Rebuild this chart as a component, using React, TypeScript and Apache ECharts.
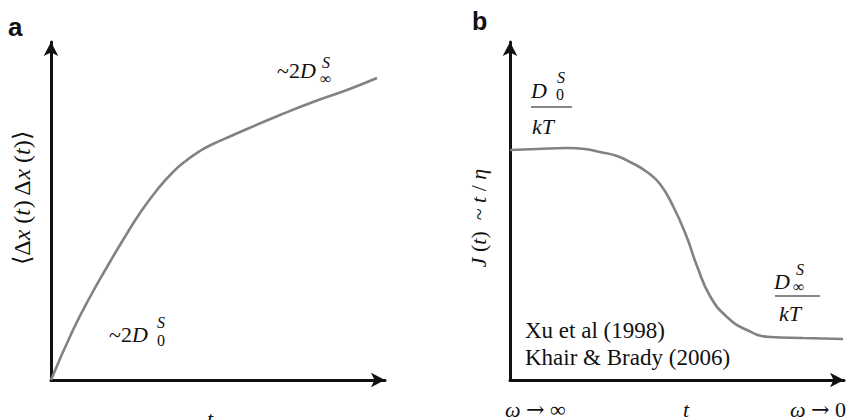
import React, { useEffect, useRef } from "react";
import * as echarts from "echarts";

// Panel a: mean-square displacement versus time (arbitrary units)
const msdT = [0, 22, 39, 56, 72, 89, 106, 122, 136, 149, 162, 180, 196, 229, 262, 296, 326];
const msdV = [0, 50, 83, 113, 140, 167, 190, 208, 220, 229, 236, 244, 251, 265, 278, 290, 302];

// Panel b: normalised response J(t) versus time (arbitrary units)
const jT = [0, 27, 57, 75, 90, 107, 122, 137, 150, 163, 176, 187, 200, 217, 237, 260, 293, 333];
const jV = [230, 231, 232, 231, 228, 224, 217, 208, 196, 174, 145, 114, 84, 63, 50, 43, 42, 41];

const AXIS_MAX_X = 334;
const AXIS_MAX_Y = 338;

const SERIF = "Liberation Serif";
const SANS = "Liberation Sans";

function richAt(size: number) {
  return {
    n: { fontFamily: SERIF, fontSize: size, color: "#111" },
    i: { fontFamily: SERIF, fontSize: size, fontStyle: "italic", color: "#111" },
    r: { fontFamily: "DejaVu Serif", fontSize: size, color: "#111" },
  };
}
const rich = richAt(22);

function txt(x: number, y: number, text: string, extra: any = {}) {
  return {
    type: "text",
    x,
    y,
    rotation: extra.rotation || 0,
    style: {
      text,
      fontFamily: extra.family || SERIF,
      fontSize: extra.fontSize || 22,
      fontStyle: extra.italic ? "italic" : "normal",
      fontWeight: extra.bold ? "bold" : "normal",
      fill: "#111",
      align: extra.align || "left",
      verticalAlign: "middle",
      rich: extra.rich,
    },
  };
}

function axes(gridIndex: number) {
  const line = {
    show: true,
    symbol: ["none", "arrow"],
    symbolSize: [11, 14],
    lineStyle: { color: "#111", width: 3 },
  };
  const common = {
    type: "value",
    gridIndex,
    min: 0,
    axisLine: line,
    axisTick: { show: false },
    axisLabel: { show: false },
    splitLine: { show: false },
  };
  return {
    x: { ...common, max: AXIS_MAX_X },
    y: { ...common, max: AXIS_MAX_Y },
  };
}

export default function App() {
  const ref = useRef<HTMLDivElement>(null);

  useEffect(() => {
    document.body.style.margin = "0";
    if (!ref.current) return;
    const chart = echarts.init(ref.current, null, { renderer: "svg" });
    const a = axes(0);
    const b = axes(1);
    const curve = { color: "#828282", width: 2.6 };

    chart.setOption({
      animation: false,
      grid: [
        { left: 51, top: 42, width: AXIS_MAX_X, height: AXIS_MAX_Y },
        { left: 510, top: 42, width: AXIS_MAX_X, height: AXIS_MAX_Y },
      ],
      xAxis: [a.x, b.x],
      yAxis: [a.y, b.y],
      series: [
        {
          type: "line",
          xAxisIndex: 0,
          yAxisIndex: 0,
          data: msdT.map((t, k) => [t, msdV[k]]),
          smooth: 0.5,
          showSymbol: false,
          lineStyle: curve,
          z: 1,
        },
        {
          type: "line",
          xAxisIndex: 1,
          yAxisIndex: 1,
          data: jT.map((t, k) => [t, jV[k]]),
          smooth: 0.5,
          showSymbol: false,
          lineStyle: curve,
          z: 1,
        },
      ],
      graphic: [
        // panel letters
        txt(8, 27, "a", { family: SANS, bold: true, fontSize: 26 }),
        txt(472, 21, "b", { family: SANS, bold: true, fontSize: 25 }),

        // panel a
        txt(22, 198, "{n|⟨Δ}{i|x}{n| (}{i|t}{n|) Δ}{i|x}{n| (}{i|t}{n|)⟩}", {
          rotation: Math.PI / 2,
          align: "center",
          rich: richAt(24),
        }),
        txt(207, 418, "t", { italic: true }),
        txt(277, 70, "{n|~2}{i|D}", { rich }),
        txt(322, 62, "S", { italic: true, fontSize: 16 }),
        txt(320, 78, "∞", { fontSize: 16 }),
        txt(109, 334, "{n|~2}{i|D}", { rich }),
        txt(157, 322, "S", { italic: true, fontSize: 16 }),
        txt(157, 340, "0", { fontSize: 16 }),

        // panel b
        txt(478, 218, "{i|J}{n| (}{i|t}{n|)  ~ }{i|t}{n| / }{i|η}", {
          rotation: Math.PI / 2,
          align: "center",
          rich,
        }),
        txt(531, 90, "D", { italic: true }),
        txt(557, 77, "S", { italic: true, fontSize: 16 }),
        txt(556, 94, "0", { fontSize: 16 }),
        { type: "line", shape: { x1: 531, y1: 107, x2: 572, y2: 107 }, style: { stroke: "#111", lineWidth: 1 } },
        txt(532, 126, "kT", { italic: true }),

        txt(774, 281, "D", { italic: true }),
        txt(796, 269, "S", { italic: true, fontSize: 16 }),
        txt(793, 286, "∞", { fontSize: 16 }),
        { type: "line", shape: { x1: 775, y1: 296, x2: 820, y2: 296 }, style: { stroke: "#111", lineWidth: 1 } },
        txt(779, 313, "kT", { italic: true }),

        txt(525, 330, "Xu et al (1998)", { fontSize: 23 }),
        txt(525, 357, "Khair & Brady (2006)", { fontSize: 23 }),

        txt(505, 409, "{i|ω}{n| }{r|→}{n| ∞}", { rich }),
        txt(683, 409, "t", { italic: true }),
        txt(790, 409, "{i|ω}{n| }{r|→}{n| 0}", { rich }),
      ],
    });
    return () => chart.dispose();
  }, []);

  return <div ref={ref} style={{ width: 854, height: 420 }} />;
}
